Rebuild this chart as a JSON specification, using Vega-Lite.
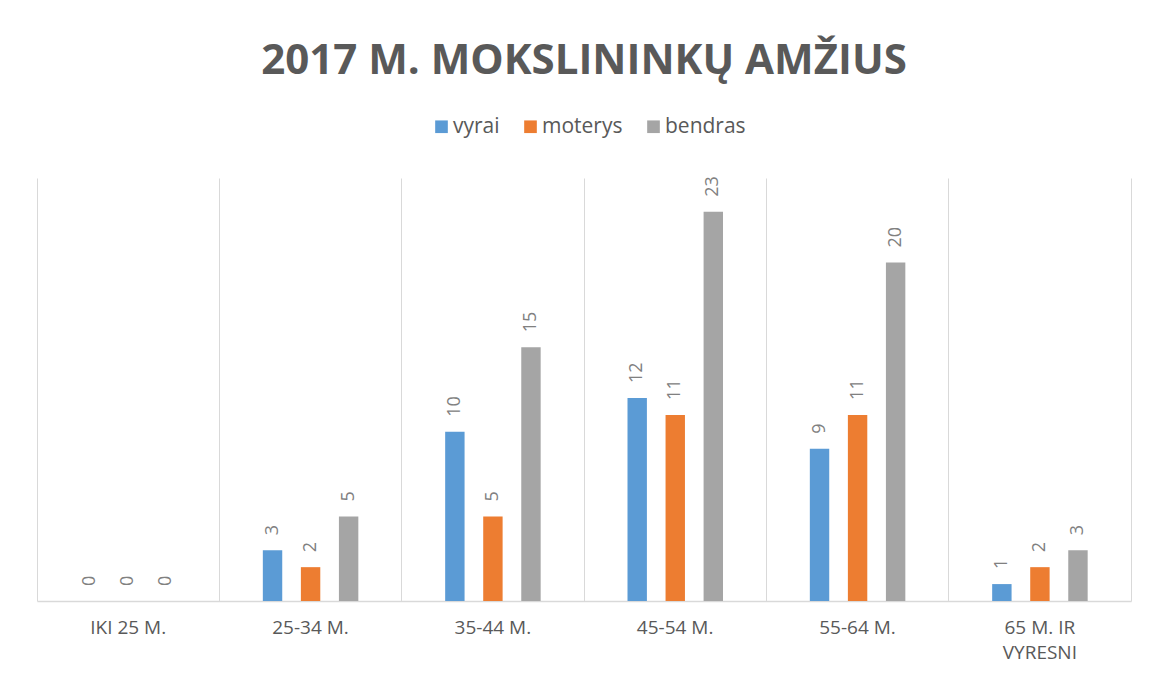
{
  "$schema": "https://vega.github.io/schema/vega-lite/v6.json",
  "autosize": "none",
  "width": 1094,
  "height": 423,
  "padding": {"left": 37, "top": 178, "right": 18, "bottom": 76},
  "background": "white",
  "title": {
    "text": "2017 M. MOKSLININKŲ  AMŽIUS",
    "font": "Open Sans",
    "fontSize": 42,
    "fontWeight": "bold",
    "color": "#595959",
    "anchor": "middle",
    "frame": "group",
    "offset": 33
  },
  "config": {
    "view": {"stroke": null},
    "font": "Open Sans"
  },
  "data": {
    "values": [
      {"amzius": "IKI 25 M.", "grupe": "vyrai", "kiekis": 0},
      {"amzius": "IKI 25 M.", "grupe": "moterys", "kiekis": 0},
      {"amzius": "IKI 25 M.", "grupe": "bendras", "kiekis": 0},
      {"amzius": "25-34 M.", "grupe": "vyrai", "kiekis": 3},
      {"amzius": "25-34 M.", "grupe": "moterys", "kiekis": 2},
      {"amzius": "25-34 M.", "grupe": "bendras", "kiekis": 5},
      {"amzius": "35-44 M.", "grupe": "vyrai", "kiekis": 10},
      {"amzius": "35-44 M.", "grupe": "moterys", "kiekis": 5},
      {"amzius": "35-44 M.", "grupe": "bendras", "kiekis": 15},
      {"amzius": "45-54 M.", "grupe": "vyrai", "kiekis": 12},
      {"amzius": "45-54 M.", "grupe": "moterys", "kiekis": 11},
      {"amzius": "45-54 M.", "grupe": "bendras", "kiekis": 23},
      {"amzius": "55-64 M.", "grupe": "vyrai", "kiekis": 9},
      {"amzius": "55-64 M.", "grupe": "moterys", "kiekis": 11},
      {"amzius": "55-64 M.", "grupe": "bendras", "kiekis": 20},
      {"amzius": "65 M. IR VYRESNI", "grupe": "vyrai", "kiekis": 1},
      {"amzius": "65 M. IR VYRESNI", "grupe": "moterys", "kiekis": 2},
      {"amzius": "65 M. IR VYRESNI", "grupe": "bendras", "kiekis": 3}
    ]
  },
  "encoding": {
    "x": {
      "field": "amzius",
      "type": "nominal",
      "sort": null,
      "scale": {"paddingInner": 0, "paddingOuter": 0},
      "axis": {
        "title": null,
        "bandPosition": 0,
        "grid": true,
        "gridColor": "#d9d9d9",
        "gridWidth": 1,
        "ticks": false,
        "domainColor": "#d9d9d9",
        "domainWidth": 1.5,
        "labelAngle": 0,
        "labelAlign": "center",
        "labelBaseline": "top",
        "labelFont": "Open Sans",
        "labelFontSize": 19,
        "labelColor": "#595959",
        "labelPadding": 17,
        "labelLineHeight": 25,
        "labelFlush": false,
        "labelOverlap": false,
        "labelExpr": "datum.value == '65 M. IR VYRESNI' ? ['65 M. IR', 'VYRESNI'] : datum.value"
      }
    },
    "xOffset": {
      "field": "grupe",
      "type": "nominal",
      "sort": ["vyrai", "moterys", "bendras"],
      "scale": {"paddingInner": 0.49, "paddingOuter": 0, "range": [43.5, 139]}
    },
    "y": {
      "field": "kiekis",
      "type": "quantitative",
      "scale": {"domain": [0, 25], "nice": false},
      "axis": {
        "orient": "right",
        "title": null,
        "labels": false,
        "ticks": false,
        "grid": false,
        "domain": true,
        "domainColor": "#d9d9d9",
        "domainWidth": 1
      }
    }
  },
  "layer": [
    {
      "mark": {"type": "bar"},
      "encoding": {
        "color": {
          "field": "grupe",
          "type": "nominal",
          "sort": ["vyrai", "moterys", "bendras"],
          "scale": {
            "domain": ["vyrai", "moterys", "bendras"],
            "range": ["#5B9BD5", "#ED7D31", "#A5A5A5"]
          },
          "legend": {
            "title": null,
            "orient": "none",
            "direction": "horizontal",
            "legendX": 394,
            "legendY": -62,
            "symbolType": "square",
            "symbolSize": 160,
            "symbolStrokeWidth": 0,
            "labelFont": "Open Sans",
            "labelFontSize": 21,
            "labelColor": "#595959",
            "columnPadding": 20,
            "labelOffset": 1
          }
        }
      }
    },
    {
      "mark": {
        "type": "text",
        "angle": 270,
        "align": "left",
        "baseline": "middle",
        "dx": 15,
        "font": "Open Sans",
        "fontSize": 18,
        "color": "#808080"
      },
      "encoding": {
        "text": {"field": "kiekis", "type": "quantitative"}
      }
    }
  ]
}
